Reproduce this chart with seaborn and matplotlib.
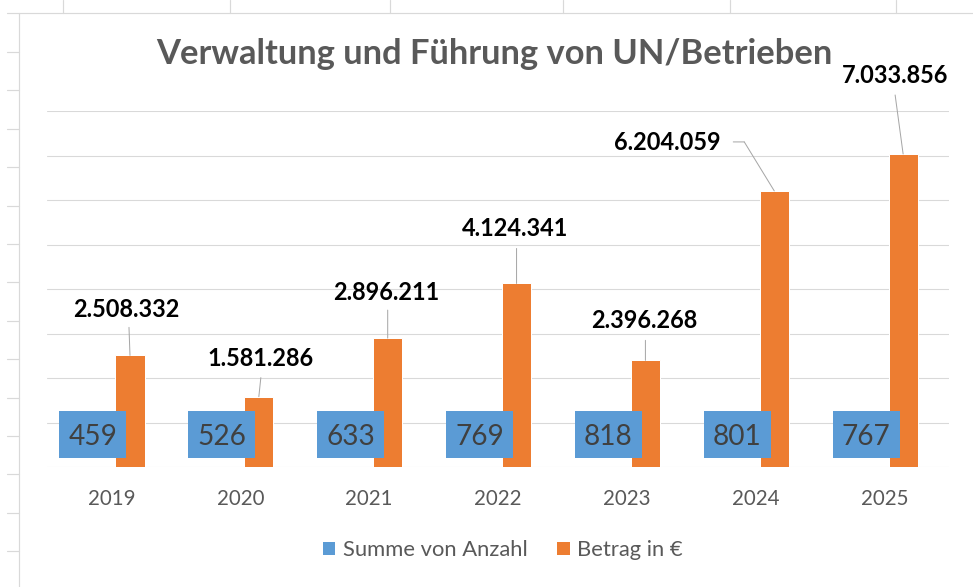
import matplotlib
matplotlib.use("Agg")
import matplotlib.pyplot as plt
import seaborn as sns
import pandas as pd
from matplotlib.patches import Patch, Rectangle
from matplotlib.lines import Line2D
from matplotlib.transforms import offset_copy

# ---- data ----
years = ["2019", "2020", "2021", "2022", "2023", "2024", "2025"]
anzahl = [459, 526, 633, 769, 818, 801, 767]
betrag = [2508332, 1581286, 2896211, 4124341, 2396268, 6204059, 7033856]
series = ["Summe von Anzahl", "Betrag in €"]
colors = ["#5B9BD5", "#ED7D31"]
title = "Verwaltung und Führung von UN/Betrieben"

# label placement (points, relative to top of orange bar)
lab_off = [(-4, 38), (2, 31), (-1, 38), (-1, 47), (-1, 32), (-107, 41), (-8, 71)]
lead_end = [(-1, 28), (2, 19), (0, 28), (0, 35), (0, 20), (-30, 49), (-8, 59)]
lead_extra = {5: (-41, 49)}

W, H, DPI = 973, 587, 72
sns.set_theme(style="white")
plt.rcParams["font.family"] = ["Lato", "DejaVu Sans"]

df = pd.DataFrame({
    "Jahr": years * 2,
    "Serie": [series[0]] * len(years) + [series[1]] * len(years),
    "Wert": anzahl + betrag,
})

fig = plt.figure(figsize=(W / DPI, H / DPI), dpi=DPI, facecolor="white")

# spreadsheet background decoration
grid_c = "#d9d9d9"
fig.add_artist(Line2D([7 / W, 1], [1 - 13 / H] * 2, color=grid_c, lw=1.2, transform=fig.transFigure))
fig.add_artist(Line2D([19 / W] * 2, [0, 1 - 13 / H], color=grid_c, lw=1.2, transform=fig.transFigure))
for xt in [63, 230, 390, 563, 730, 896]:
    fig.add_artist(Line2D([xt / W] * 2, [1 - 13 / H, 1], color=grid_c, lw=1.2, transform=fig.transFigure))
y = 52.0
while y < H:
    fig.add_artist(Line2D([7 / W, 19 / W], [1 - y / H] * 2, color=grid_c, lw=1.2, transform=fig.transFigure))
    y += 38.4

ax = fig.add_axes([47 / W, 1 - 467 / H, 902 / W, 356 / H])
sns.barplot(data=df, x="Jahr", y="Wert", hue="Serie", hue_order=series,
            palette=colors, width=0.576, gap=0.215, ax=ax, legend=False,
            saturation=1, zorder=2)
ax.set_xlim(-0.5, len(years) - 0.5)
ax.set_ylim(0, 8_000_000)
ax.set_yticks(range(0, 8_000_001, 1_000_000))
ax.set_yticklabels([])
ax.yaxis.grid(True, color=grid_c, lw=1.1, zorder=0)
ax.set_axisbelow(True)
for s in ax.spines.values():
    s.set_visible(False)
ax.tick_params(axis="both", length=0)
ax.tick_params(axis="x", pad=22, labelsize=20.5, labelcolor="#595959")
ax.set_xlabel("")
ax.set_ylabel("")

def fmt(v):
    return f"{v:,}".replace(",", ".")

# orange labels with leader lines
lead_kw = dict(arrowstyle="-", color="#a6a6a6", lw=1.0, shrinkA=0, shrinkB=0)
for i, bar in enumerate(ax.containers[1]):
    cx = bar.get_x() + bar.get_width() / 2
    top = bar.get_height()
    ax.annotate(fmt(betrag[i]), xy=(cx, top), xytext=lab_off[i], textcoords="offset points",
                ha="center", va="baseline", fontsize=23.5, fontweight="bold", color="#000000", zorder=5)
    ax.annotate("", xy=(cx, top), xytext=lead_end[i], textcoords="offset points",
                arrowprops=lead_kw, zorder=4)
    if i in lead_extra:
        t1 = offset_copy(ax.transData, fig=fig, x=lead_end[i][0], y=lead_end[i][1], units="points")
        t2 = offset_copy(ax.transData, fig=fig, x=lead_extra[i][0], y=lead_extra[i][1], units="points")
        ax.annotate("", xy=(cx, top), xycoords=t1, xytext=(cx, top), textcoords=t2,
                    arrowprops=lead_kw, zorder=4)

# blue labels in filled boxes
box_w = 67 / 128.86
box_y0, box_y1 = 9 / 44.5 * 1e6, 56 / 44.5 * 1e6
for i, bar in enumerate(ax.containers[0]):
    cx = bar.get_x() + bar.get_width() / 2
    ax.add_patch(Rectangle((cx - box_w / 2, box_y0), box_w, box_y1 - box_y0,
                           facecolor=colors[0], edgecolor="none", zorder=6))
    ax.text(cx, 22 / 44.5 * 1e6, fmt(anzahl[i]), ha="center", va="baseline",
            fontsize=28, color="#404040", zorder=7)

fig.text(494 / W, 1 - 64 / H, title, ha="center", va="baseline", fontsize=34.5,
         fontweight="bold", color="#595959")

handles = [Patch(facecolor=c, edgecolor="none") for c in colors]
fig.legend(handles, series, loc="center", bbox_to_anchor=(503 / W, 1 - 550 / H), ncol=2,
           frameon=False, fontsize=22, handlelength=0.55, handleheight=0.55,
           handletextpad=0.35, columnspacing=1.35, labelcolor="#595959")

fig.savefig("out.png", dpi=DPI, facecolor="white")
